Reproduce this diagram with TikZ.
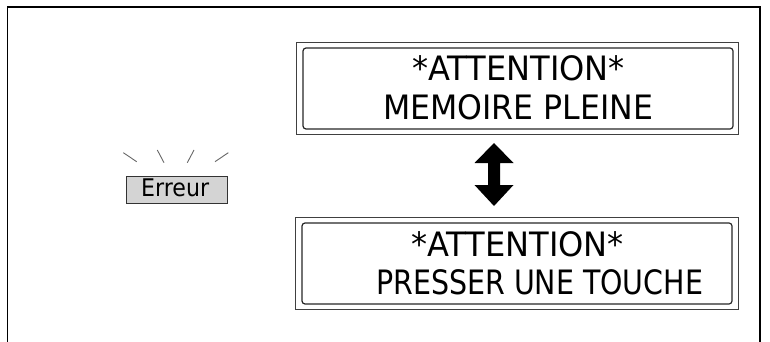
\documentclass[tikz,border=0pt]{standalone}
\usepackage{fontspec}
\setmainfont{DejaVu Sans}
\begin{document}
\begin{tikzpicture}[x=1pt,y=-1pt,
  outerbox/.style={draw=black!75,line width=0.9pt,inner sep=0pt},
  innerbox/.style={draw=black!85,line width=1.2pt,rounded corners=3pt,inner sep=0pt},
  lcd/.style={inner sep=0pt,anchor=base west,font=\fontsize{33.6}{40}\selectfont,transform shape},
  errbox/.style={draw=black!80,fill=black!17,line width=0.9pt,inner sep=0pt},
  ray/.style={draw=black!60,line width=0.9pt},
  frame/.style={draw=black,line width=1.7pt}]
\useasboundingbox (0,0) rectangle (770,342);
\draw[frame] (7.5,342) -- (7.5,7) -- (760,7) -- (760,342);
% top display
\node[outerbox,minimum width=442pt,minimum height=92pt] (o1) at (517,88) {};
\node[innerbox,minimum width=430pt,minimum height=81pt] (i1) at (518,88.5) {};
\node[lcd,xscale=0.955] (t1a) at (412,81) {*ATTENTION*};
\node[lcd,xscale=0.94] (t1b) at (383,119) {MEMOIRE PLEINE};
% bottom display
\node[outerbox,minimum width=443pt,minimum height=92pt] (o2) at (516.5,263) {};
\node[innerbox,minimum width=430pt,minimum height=81pt] (i2) at (517,263.5) {};
\node[lcd,xscale=0.955] (t2a) at (411,256.7) {*ATTENTION*};
\node[lcd,xscale=0.847] (t2b) at (376,294) {PRESSER UNE TOUCHE};
% double arrow
\coordinate (ar) at (494,174.5);
\fill[black] ([shift={(0,-31.5)}]ar) -- ([shift={(19.5,-11.5)}]ar) -- ([shift={(6,-11.5)}]ar)
  -- ([shift={(6,10.5)}]ar) -- ([shift={(19.5,10.5)}]ar) -- ([shift={(0,31.5)}]ar)
  -- ([shift={(-19.5,10.5)}]ar) -- ([shift={(-6,10.5)}]ar) -- ([shift={(-6,-11.5)}]ar)
  -- ([shift={(-19.5,-11.5)}]ar) -- cycle;
% error lamp
\node[errbox,minimum width=101pt,minimum height=27pt] (eb) at (176.5,189.5) {};
\node[inner sep=0pt,anchor=base west,font=\fontsize{24.3}{28}\selectfont,xscale=0.91,transform shape] (et) at (141,196) {Erreur};
\coordinate (r1a) at (123.3,152.7); \coordinate (r1b) at (136.7,161.7);
\coordinate (r2a) at (157.3,150); \coordinate (r2b) at (164,162.7);
\coordinate (r3a) at (194,150); \coordinate (r3b) at (187.3,162.7);
\coordinate (r4a) at (228.3,152.7); \coordinate (r4b) at (215,161.7);
\draw[ray] (r1a) -- (r1b);
\draw[ray] (r2a) -- (r2b);
\draw[ray] (r3a) -- (r3b);
\draw[ray] (r4a) -- (r4b);
\end{tikzpicture}
\end{document}
